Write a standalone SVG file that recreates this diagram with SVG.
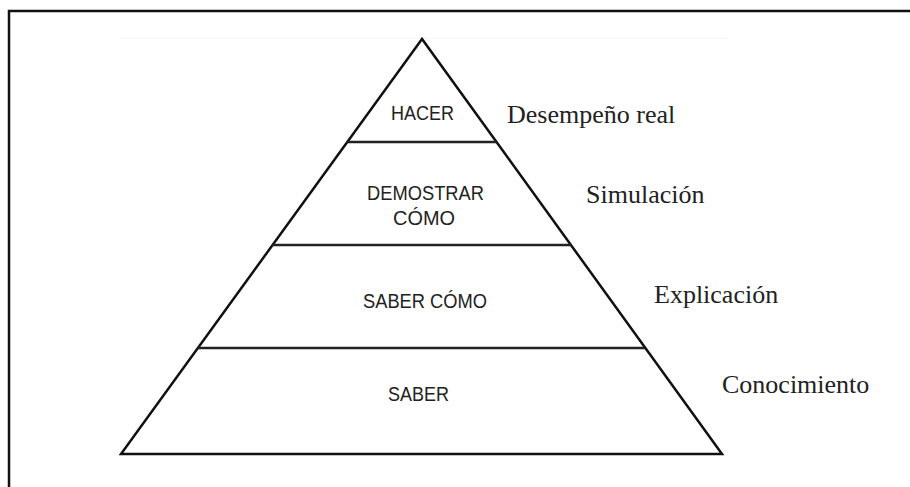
<svg xmlns="http://www.w3.org/2000/svg" width="910" height="487" viewBox="0 0 910 487">
<style>
.frame{stroke:#111;stroke-width:2.5;fill:none}
.edge{stroke:#111;stroke-width:2.5;fill:none;stroke-linejoin:miter}
.tier{stroke:#222;stroke-width:2.5}
.lvl{font-family:"Liberation Sans",Arial,sans-serif;font-size:20px;fill:#222;text-anchor:middle}
.lab{font-family:"Liberation Serif","Times New Roman",serif;font-size:26px;fill:#222}
</style>
<rect width="910" height="487" fill="#fff"/>
<g id="frame">
<path class="frame" d="M9,487 V11 H910"/>
<line x1="119" y1="38" x2="727" y2="38" stroke="#f4f4f4" stroke-width="1"/>
</g>
<g id="pyramid">
<polygon class="edge" points="422,39 121,454 722,454"/>
</g>
<g id="connectors">
<line class="tier" x1="347" y1="142" x2="497" y2="142"/>
<line class="tier" x1="272" y1="245" x2="571" y2="245"/>
<line class="tier" x1="198" y1="348" x2="645" y2="348"/>
</g>
<g id="hacer">
<text class="lvl" x="422.5" y="120" textLength="63" lengthAdjust="spacingAndGlyphs">HACER</text>
<text class="lab" x="507" y="123">Desempeño real</text>
</g>
<g id="demostrar">
<text class="lvl" x="425.5" y="200" textLength="117" lengthAdjust="spacingAndGlyphs">DEMOSTRAR</text>
<text class="lvl" x="424" y="225" textLength="62" lengthAdjust="spacingAndGlyphs">CÓMO</text>
<text class="lab" x="586" y="203">Simulación</text>
</g>
<g id="saber-como">
<text class="lvl" x="425" y="308" textLength="124" lengthAdjust="spacingAndGlyphs">SABER CÓMO</text>
<text class="lab" x="654" y="303">Explicación</text>
</g>
<g id="saber">
<text class="lvl" x="418.5" y="401" textLength="61" lengthAdjust="spacingAndGlyphs">SABER</text>
<text class="lab" x="722" y="393">Conocimiento</text>
</g>
</svg>
